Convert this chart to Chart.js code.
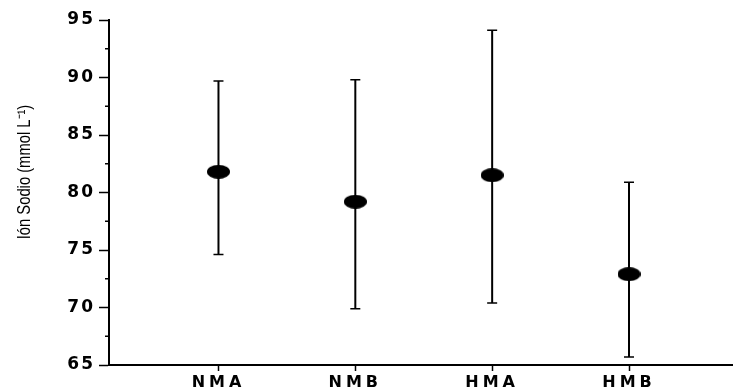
<!DOCTYPE html>
<html>
<head>
<meta charset="utf-8">
<script src="https://cdn.jsdelivr.net/npm/chart.js@4"></script>
<style>
  html, body { margin: 0; padding: 0; overflow: hidden; background: #fff; }
  #wrap { width: 733px; height: 390px; }
  canvas { display: block; }
</style>
</head>
<body>
<div id="wrap"><canvas id="sodio"></canvas></div>
<script>
const categories = ["NMA", "NMB", "HMA", "HMB"];
const means = [81.8, 79.2, 81.5, 72.9];
const lows = [74.6, 69.9, 70.4, 65.7];
const highs = [89.7, 89.8, 94.1, 80.9];
const yTicks = [65, 70, 75, 80, 85, 90, 95];
const yMinor = [67.5, 72.5, 77.5, 82.5, 87.5, 92.5];
const yTitle = "Ión Sodio (mmol L⁻¹)";

// filled ellipse used as point marker
function ellipseMarker(w, h) {
  const c = document.createElement("canvas");
  c.width = w; c.height = h;
  const g = c.getContext("2d");
  g.fillStyle = "#000";
  g.beginPath();
  g.ellipse(w / 2, h / 2, w / 2, h / 2, 0, 0, Math.PI * 2);
  g.fill();
  return c;
}

const errorBars = {
  id: "errorBars",
  beforeDatasetsDraw(chart) {
    const { ctx, scales: { x, y } } = chart;
    ctx.save();
    ctx.strokeStyle = "#000";
    categories.forEach((c, i) => {
      const px = x.getPixelForValue(i + 1);
      const top = y.getPixelForValue(highs[i]);
      const bot = y.getPixelForValue(lows[i]);
      ctx.lineWidth = 2;
      ctx.beginPath();
      ctx.moveTo(px, top);
      ctx.lineTo(px, bot);
      ctx.stroke();
      ctx.lineWidth = 1.5;
      ctx.beginPath();
      ctx.moveTo(px - 5, top); ctx.lineTo(px + 5, top);
      ctx.moveTo(px - 5, bot); ctx.lineTo(px + 5, bot);
      ctx.stroke();
    });
    ctx.restore();
  }
};

const extras = {
  id: "extras",
  beforeDraw(chart) {
    // a little letter spacing for the tick labels of each axis
    [["x", "4px"], ["y", "2px"]].forEach(([id, sp]) => {
      const s = chart.scales[id];
      if (s._spaced) return;
      const orig = s.drawLabels.bind(s);
      s.drawLabels = area => {
        chart.ctx.letterSpacing = sp;
        orig(area);
        chart.ctx.letterSpacing = "0px";
      };
      s._spaced = true;
    });
  },
  afterDraw(chart) {
    const { ctx, scales: { y } } = chart;
    ctx.save();
    ctx.strokeStyle = "#000";
    ctx.lineWidth = 1.5;
    ctx.beginPath();
    yMinor.forEach(v => {
      const py = y.getPixelForValue(v);
      ctx.moveTo(y.right - 4, py);
      ctx.lineTo(y.right, py);
    });
    ctx.stroke();
    ctx.translate(30, 172);
    ctx.rotate(-Math.PI / 2);
    ctx.scale(0.82, 1);
    ctx.fillStyle = "#000";
    ctx.font = '18px "Liberation Sans Narrow", "Liberation Sans", sans-serif';
    ctx.textAlign = "center";
    ctx.textBaseline = "alphabetic";
    ctx.fillText(yTitle, 0, 0);
    ctx.restore();
  }
};

new Chart(document.getElementById("sodio"), {
  type: "scatter",
  data: {
    datasets: [{
      data: means.map((m, i) => ({ x: i + 1, y: m })),
      pointStyle: ellipseMarker(23, 14),
      backgroundColor: "#000"
    }]
  },
  options: {
    responsive: true,
    maintainAspectRatio: false,
    animation: false,
    layout: { autoPadding: false, padding: { top: 20, right: 0, bottom: 0, left: 0 } },
    plugins: { legend: { display: false }, tooltip: { enabled: false } },
    scales: {
      x: {
        type: "linear",
        min: 0.2,
        max: 4.76,
        afterBuildTicks: s => { s.ticks = categories.map((c, i) => ({ value: i + 1 })); },
        afterFit: s => { s.height = 25; s.paddingRight = 0; s.paddingLeft = 0; },
        border: { color: "#000", width: 2 },
        grid: { drawOnChartArea: false, tickLength: 6, tickColor: "#000", tickWidth: 1.5 },
        ticks: {
          autoSkip: false,
          maxRotation: 0,
          padding: 2,
          color: "#000",
          font: { family: "DejaVu Sans", size: 16, weight: "bold" },
          callback: v => categories[v - 1] || ""
        }
      },
      y: {
        min: 65,
        max: 95,
        afterBuildTicks: s => { s.ticks = yTicks.map(v => ({ value: v })); },
        afterFit: s => { s.width = 109; },
        border: { color: "#000", width: 2 },
        grid: { drawOnChartArea: false, tickLength: 10, tickColor: "#000", tickWidth: 1.5 },
        ticks: {
          padding: 4,
          color: "#000",
          font: { family: "DejaVu Sans", size: 17, weight: "bold" }
        }
      }
    }
  },
  plugins: [errorBars, extras]
});
</script>
</body>
</html>
